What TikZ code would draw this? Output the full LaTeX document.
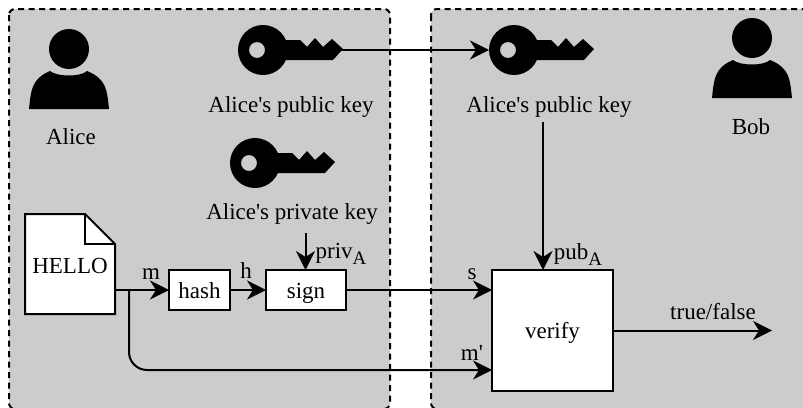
\documentclass[tikz,border=0pt]{standalone}
\usepackage{fontspec}
\setmainfont{Liberation Serif}
\usetikzlibrary{arrows.meta}
\newcommand{\subA}{\raisebox{-6pt}{\fontsize{19}{19}\selectfont A}}
\definecolor{panelgray}{HTML}{CCCCCC}
\tikzset{
  panel/.style={draw=black,fill=panelgray,line width=2pt,dash pattern=on 6pt off 4.5pt,rounded corners=6pt},
  block/.style={draw=black,fill=white,line width=2pt,inner sep=0pt,outer sep=0pt,anchor=north west,text height=22pt,text depth=6pt},
  wire/.style={line width=2pt,-{Stealth[length=19pt,width=19pt,inset=6pt]}},
  keyicon/.pic={
    \fill[even odd rule] (0,0) circle (25) (-6,0) circle (8);
    \fill (15,-10) -- (37,-10) -- (44,-3) -- (52,-12) -- (60,-3) -- (69,-11) -- (80,-1)
      -- (70,10) -- (15,10) -- cycle;
    \coordinate (-bow) at (-25,0);
    \coordinate (-tip) at (78,0);
  },
  personicon/.pic={
    \fill (0,0) circle (20);
    \fill (-40,60) .. controls (-38,42) and (-38,30) .. (-19,22)
      .. controls (-12,28) and (12,28) .. (18,22)
      .. controls (38,30) and (38,42) .. (40,60) -- cycle;
  }
}
\begin{document}
\begin{tikzpicture}[x=1pt,y=-1pt,font=\fontsize{23}{25}\selectfont]
      \clip (0,0) rectangle (803,407);
      \draw[panel] (9,9) rectangle (390,409);
      \draw[panel] (431,9) rectangle (830,409);
      % icons
      \pic (alicehead) at (69,49) {personicon};
      \pic (bobhead) at (752,38) {personicon};
      \pic (pubkeyA) at (263,50) {keyicon};
      \pic (privkey) at (255,163) {keyicon};
      \pic (pubkeyB) at (514,50) {keyicon};
      % document
      \draw[line width=2pt,line join=miter,fill=white]
        (25,214) -- (85,214) -- (115,244) -- (115,314) -- (25,314) -- cycle;
      \draw[line width=2pt] (85,214) -- (85,244) -- (115,244);
      \draw
        (71,137) node (alice){Alice}
        (751,127) node (bob){Bob}
        (291,107) node (publabelA){Alice\textquotesingle s public key}
        (292,214) node (privlabel){Alice\textquotesingle s private key}
        (549,107) node (publabelB){Alice\textquotesingle s public key}
        (70,265.5) node (hello){HELLO}
        (151,274) node (mlabel){m}
        (246,271) node (hlabel){h}
        (341,254) node (privA){priv\subA}
        (578,255) node (pubA){pub\subA}
        (472,274) node (slabel){s}
        (472,352.5) node (mprime){m\textquotesingle}
        (713,312) node (result){true/false};
      \node[block,minimum width=61pt,minimum height=40pt] (hash) at (169,270) {hash};
      \node[block,minimum width=80pt,minimum height=40pt] (sign) at (266,270) {sign};
      \node[block,minimum width=121pt,minimum height=121pt] (verify) at (492,270) {verify};
      \coordinate (docout) at (115,290);
      \coordinate (branch) at (129,290);
      \coordinate (privin) at (305.5,233);
      \coordinate (pubin) at (543,122);
      \coordinate (resultend) at (772,330.5);
      \coordinate (verifyin) at (492,370);
      \begin{scope}[wire]
        \draw (pubkeyA-tip) to (pubkeyB-bow);
        \draw (docout) to (hash.west |- docout);
        \draw (hash) to (sign);
        \draw (privin) to (privin |- sign.north);
        \draw (sign) to (verify.west |- sign);
        \draw (pubin) to (pubin |- verify.north);
        \draw[rounded corners=18pt] (branch) |- (verifyin);
        \draw (verify.east) to (resultend);
      \end{scope}
    \end{tikzpicture}
\end{document}
